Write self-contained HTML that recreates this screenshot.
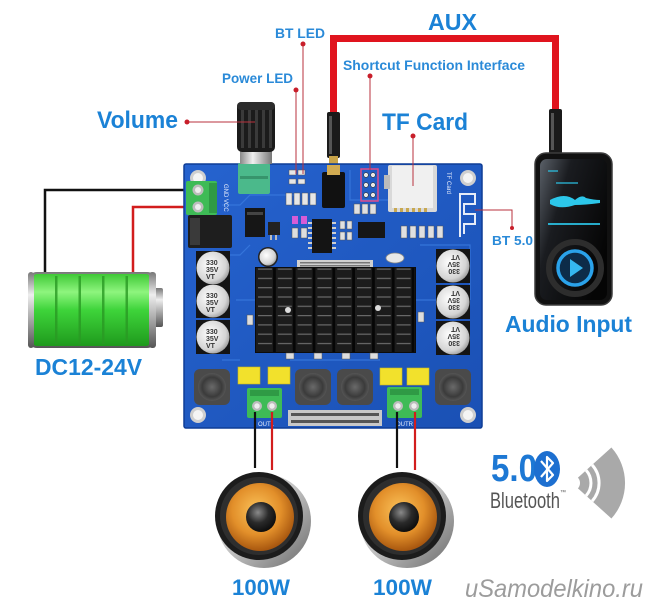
<!DOCTYPE html>
<html><head><meta charset="utf-8"><style>
html,body{margin:0;padding:0;background:#fff;}
svg{display:block;}
text{font-family:"Liberation Sans",Arial,sans-serif;}
</style></head><body>
<svg width="650" height="613" viewBox="0 0 650 613" xmlns="http://www.w3.org/2000/svg">
<defs>
  <linearGradient id="batt" x1="0" y1="0" x2="0" y2="1">
    <stop offset="0" stop-color="#3fc936"/>
    <stop offset="0.25" stop-color="#8ef57e"/>
    <stop offset="0.5" stop-color="#3ed43a"/>
    <stop offset="1" stop-color="#1f9a1d"/>
  </linearGradient>
  <linearGradient id="battcap" x1="0" y1="0" x2="0" y2="1">
    <stop offset="0" stop-color="#777"/>
    <stop offset="0.3" stop-color="#eee"/>
    <stop offset="1" stop-color="#555"/>
  </linearGradient>
  <radialGradient id="cone" cx="0.45" cy="0.4" r="0.6">
    <stop offset="0" stop-color="#fbc35a"/>
    <stop offset="0.6" stop-color="#e28f2a"/>
    <stop offset="1" stop-color="#a8570f"/>
  </radialGradient>
  <radialGradient id="cap" cx="0.4" cy="0.35" r="0.7">
    <stop offset="0" stop-color="#8a8a8a"/>
    <stop offset="0.5" stop-color="#2a2a2a"/>
    <stop offset="1" stop-color="#0a0a0a"/>
  </radialGradient>
  <linearGradient id="rim" x1="0" y1="0" x2="1" y2="1">
    <stop offset="0" stop-color="#f2f2f2"/>
    <stop offset="0.5" stop-color="#c0c0c0"/>
    <stop offset="1" stop-color="#6a6a6a"/>
  </linearGradient>
  <radialGradient id="elcap" cx="0.4" cy="0.4" r="0.7">
    <stop offset="0" stop-color="#ffffff"/>
    <stop offset="0.7" stop-color="#d4d4d4"/>
    <stop offset="1" stop-color="#8a8a8a"/>
  </radialGradient>
  <radialGradient id="ind" cx="0.5" cy="0.5" r="0.5">
    <stop offset="0" stop-color="#6a6a6a"/>
    <stop offset="0.7" stop-color="#3b3b3b"/>
    <stop offset="1" stop-color="#555"/>
  </radialGradient>
  <linearGradient id="phone" x1="0" y1="0" x2="1" y2="0.6">
    <stop offset="0" stop-color="#5a6068"/>
    <stop offset="0.35" stop-color="#1a1c20"/>
    <stop offset="1" stop-color="#050505"/>
  </linearGradient>
  <linearGradient id="silver" x1="0" y1="0" x2="1" y2="0">
    <stop offset="0" stop-color="#888"/>
    <stop offset="0.4" stop-color="#f0f0f0"/>
    <stop offset="1" stop-color="#777"/>
  </linearGradient>
  <linearGradient id="board" x1="0" y1="0" x2="1" y2="1">
    <stop offset="0" stop-color="#2663cf"/>
    <stop offset="1" stop-color="#1a50b4"/>
  </linearGradient>
  <pattern id="fins" x="256" y="268" width="19.8" height="9.3" patternUnits="userSpaceOnUse">
    <rect width="19.8" height="9.3" fill="#1c1c1c"/>
    <rect x="2" y="0.5" width="14" height="1.2" fill="#6a6a6a"/>
    <rect x="17" y="0" width="2.8" height="9.3" fill="#060606"/>
  </pattern>
</defs>

<rect width="650" height="613" fill="#fff"/>

<!-- ===== Labels ===== -->
<text x="97" y="128" font-size="24" font-weight="bold" fill="#1b82d6" textLength="81" lengthAdjust="spacingAndGlyphs">Volume</text>
<text x="222" y="83" font-size="14" font-weight="bold" fill="#2a8ad8" textLength="71" lengthAdjust="spacingAndGlyphs">Power LED</text>
<text x="275" y="38" font-size="14" font-weight="bold" fill="#2a8ad8" textLength="50" lengthAdjust="spacingAndGlyphs">BT LED</text>
<text x="428" y="30" font-size="23" font-weight="bold" fill="#1b82d6" textLength="49" lengthAdjust="spacingAndGlyphs">AUX</text>
<text x="343" y="70" font-size="14" font-weight="bold" fill="#2a8ad8" textLength="182" lengthAdjust="spacingAndGlyphs">Shortcut Function Interface</text>
<text x="382" y="130" font-size="24" font-weight="bold" fill="#1b82d6" textLength="86" lengthAdjust="spacingAndGlyphs">TF Card</text>
<text x="492" y="245" font-size="13" font-weight="bold" fill="#2a8ad8" textLength="41" lengthAdjust="spacingAndGlyphs">BT 5.0</text>
<text x="505" y="332" font-size="23" font-weight="bold" fill="#1b82d6" textLength="127" lengthAdjust="spacingAndGlyphs">Audio Input</text>
<text x="35" y="375" font-size="23" font-weight="bold" fill="#1b82d6" textLength="107" lengthAdjust="spacingAndGlyphs">DC12-24V</text>
<text x="232" y="595" font-size="22" font-weight="bold" fill="#1b82d6" textLength="58" lengthAdjust="spacingAndGlyphs">100W</text>
<text x="373" y="595" font-size="22" font-weight="bold" fill="#1b82d6" textLength="59" lengthAdjust="spacingAndGlyphs">100W</text>

<!-- ===== AUX cable ===== -->
<path d="M333.5,114 L333.5,38.5 L555.5,38.5 L555.5,111" fill="none" stroke="#e0141e" stroke-width="7"/>
<rect x="327" y="112" width="13" height="46" rx="2" fill="#1a1a1a"/>
<rect x="329" y="116" width="3" height="38" fill="#555"/>
<rect x="329" y="156" width="9" height="16" fill="#c9a449"/>
<rect x="549" y="109" width="13" height="45" rx="2" fill="#1a1a1a"/>
<rect x="551" y="113" width="3" height="37" fill="#555"/>

<!-- ===== Battery wires ===== -->
<path d="M45,273 L45,190 L198,190" fill="none" stroke="#111" stroke-width="2.5"/>
<path d="M133,273 L133,207 L198,207" fill="none" stroke="#d21d1d" stroke-width="2.5"/>

<!-- ===== Battery ===== -->
<rect x="153" y="288" width="10" height="39" rx="2" fill="url(#battcap)"/>
<rect x="28" y="272" width="128" height="76" rx="9" fill="url(#battcap)"/>
<rect x="33" y="274" width="117" height="72" rx="4" fill="url(#batt)"/>
<g fill="#2a9a24" opacity="0.8">
  <rect x="55" y="276" width="2.5" height="68"/>
  <rect x="78.5" y="276" width="2.5" height="68"/>
  <rect x="102" y="276" width="2.5" height="68"/>
  <rect x="125.5" y="276" width="2.5" height="68"/>
</g>
<rect x="28" y="272" width="6" height="76" rx="3" fill="url(#battcap)"/>
<rect x="149" y="272" width="7" height="76" rx="3" fill="url(#battcap)"/>

<!-- ===== Board ===== -->
<rect x="184" y="164" width="298" height="264" rx="2" fill="url(#board)" stroke="#0f3d96" stroke-width="1.5"/>
<g stroke="#3a7be0" stroke-width="1.2" fill="none" opacity="0.8">
  <path d="M222,205 L240,205 L250,195 L300,195"/>
  <path d="M200,255 L240,255 L250,245"/>
  <path d="M420,245 L470,245 L470,300"/>
  <path d="M350,170 L350,200 L395,200"/>
  <path d="M236,300 L256,300"/>
  <path d="M415,300 L436,300"/>
  <path d="M290,360 L380,360"/>
  <path d="M222,360 L240,360"/>
</g>
<g>
  <circle cx="198" cy="178" r="8" fill="#cfcfcf"/><circle cx="198" cy="178" r="5" fill="#f4f4f4"/>
  <circle cx="468" cy="178" r="8" fill="#cfcfcf"/><circle cx="468" cy="178" r="5" fill="#f4f4f4"/>
  <circle cx="198" cy="415" r="8" fill="#cfcfcf"/><circle cx="198" cy="415" r="5" fill="#f4f4f4"/>
  <circle cx="468" cy="415" r="8" fill="#cfcfcf"/><circle cx="468" cy="415" r="5" fill="#f4f4f4"/>
</g>

<rect x="186" y="181" width="31" height="34" rx="2" fill="#3ebb56"/>
<rect x="209" y="183" width="8" height="30" fill="#2f9a45"/>
<circle cx="198" cy="190" r="5.5" fill="#bcbcbc"/><circle cx="198" cy="190" r="3" fill="#eee"/>
<circle cx="198" cy="207" r="5.5" fill="#bcbcbc"/><circle cx="198" cy="207" r="3" fill="#eee"/>
<text x="224" y="184" font-size="6" fill="#e8eefc" transform="rotate(90 224 184)">GND VCC</text>
<rect x="188" y="215" width="44" height="33" rx="2" fill="#1e1e1e"/>
<rect x="190" y="218" width="10" height="27" fill="#3a3a3a"/>

<rect x="238" y="163" width="32" height="31" rx="2" fill="#4bb98b"/>
<rect x="240" y="176" width="28" height="3" fill="#37946c"/>

<g fill="#e6e6e6" stroke="#555" stroke-width="0.5">
  <rect x="289" y="170" width="7" height="5"/><rect x="298" y="170" width="7" height="5"/>
  <rect x="289" y="179" width="7" height="5"/><rect x="298" y="179" width="7" height="5"/>
  <rect x="286" y="193" width="6" height="12"/><rect x="294" y="193" width="6" height="12"/><rect x="302" y="193" width="6" height="12"/><rect x="310" y="193" width="6" height="12"/>
</g>
<g fill="#d65cd6">
  <rect x="292" y="216" width="6" height="8"/><rect x="301" y="216" width="6" height="8"/>
</g>
<g fill="#ddd" stroke="#555" stroke-width="0.5">
  <rect x="292" y="228" width="6" height="10"/><rect x="301" y="228" width="6" height="10"/>
</g>
<rect x="245" y="208" width="20" height="29" fill="#161616"/>
<rect x="247" y="212" width="16" height="3" fill="#444"/>
<rect x="268" y="222" width="12" height="13" fill="#222"/>
<rect x="270" y="235" width="2" height="5" fill="#bbb"/><rect x="275" y="235" width="2" height="5" fill="#bbb"/>
<rect x="312" y="219" width="20" height="34" fill="#141414"/>
<g fill="#cfcfcf">
  <rect x="308" y="222" width="4" height="2"/><rect x="308" y="227" width="4" height="2"/><rect x="308" y="232" width="4" height="2"/><rect x="308" y="237" width="4" height="2"/><rect x="308" y="242" width="4" height="2"/><rect x="308" y="247" width="4" height="2"/>
  <rect x="332" y="222" width="4" height="2"/><rect x="332" y="227" width="4" height="2"/><rect x="332" y="232" width="4" height="2"/><rect x="332" y="237" width="4" height="2"/><rect x="332" y="242" width="4" height="2"/><rect x="332" y="247" width="4" height="2"/>
</g>
<rect x="322" y="172" width="23" height="36" rx="2" fill="#111"/>
<rect x="327" y="165" width="13" height="10" fill="#d1ab52"/>
<rect x="361" y="169" width="17" height="32" fill="none" stroke="#e04b8a" stroke-width="1.5"/>
<g fill="#e8e8e8" stroke="#333" stroke-width="0.6">
  <circle cx="366" cy="175" r="2.4"/><circle cx="373" cy="175" r="2.4"/>
  <circle cx="366" cy="185" r="2.4"/><circle cx="373" cy="185" r="2.4"/>
  <circle cx="366" cy="195" r="2.4"/><circle cx="373" cy="195" r="2.4"/>
</g>
<g fill="#e0e0e0" stroke="#555" stroke-width="0.5">
  <rect x="354" y="204" width="6" height="10"/><rect x="362" y="204" width="6" height="10"/><rect x="370" y="204" width="6" height="10"/>
  <rect x="340" y="221" width="5" height="8"/><rect x="347" y="221" width="5" height="8"/><rect x="340" y="232" width="5" height="8"/><rect x="347" y="232" width="5" height="8"/>
  <rect x="401" y="226" width="6" height="12"/><rect x="410" y="226" width="6" height="12"/><rect x="419" y="226" width="6" height="12"/><rect x="428" y="226" width="6" height="12"/><rect x="437" y="226" width="6" height="12"/>
</g>
<rect x="358" y="222" width="27" height="16" fill="#161616"/>
<rect x="388" y="165" width="49" height="47" rx="2" fill="#d9d9d9"/>
<rect x="392" y="166" width="41" height="42" fill="#f0f0f0"/>
<rect x="384" y="175" width="6" height="14" fill="#bbb"/>
<g fill="#c8a850"><rect x="394" y="208" width="3" height="4"/><rect x="400" y="208" width="3" height="4"/><rect x="406" y="208" width="3" height="4"/><rect x="412" y="208" width="3" height="4"/><rect x="418" y="208" width="3" height="4"/><rect x="424" y="208" width="3" height="4"/></g>
<text x="447" y="172" font-size="6" fill="#e8eefc" transform="rotate(90 447 172)">TF Card</text>
<path d="M460,237 L460,194 L475,194 L475,204 L464,204 L464,214 L475,214 L475,224 L464,224 L464,234" fill="none" stroke="#e6ecf8" stroke-width="2"/>
<ellipse cx="395" cy="258" rx="9" ry="5" fill="#e8e8e8" stroke="#888" stroke-width="0.8"/>
<circle cx="268" cy="257" r="10" fill="#222"/>
<circle cx="268" cy="257" r="8.5" fill="url(#elcap)"/>
<rect x="297" y="260" width="76" height="8" fill="#d0d0d0"/>
<g fill="#777"><rect x="300" y="262" width="70" height="1.5"/><rect x="300" y="265" width="70" height="1.5"/></g>

<g>
  <rect x="196" y="251" width="34" height="34" fill="#141414"/>
  <circle cx="213" cy="268" r="16.5" fill="url(#elcap)"/>
  <rect x="196" y="284" width="34" height="34" fill="#141414"/>
  <circle cx="213" cy="301" r="16.5" fill="url(#elcap)"/>
  <rect x="196" y="320" width="34" height="34" fill="#141414"/>
  <circle cx="213" cy="337" r="16.5" fill="url(#elcap)"/>
  <rect x="436" y="249" width="34" height="34" fill="#141414"/>
  <circle cx="453" cy="266" r="16.5" fill="url(#elcap)"/>
  <rect x="436" y="285" width="34" height="34" fill="#141414"/>
  <circle cx="453" cy="302" r="16.5" fill="url(#elcap)"/>
  <rect x="436" y="321" width="34" height="34" fill="#141414"/>
  <circle cx="453" cy="338" r="16.5" fill="url(#elcap)"/>
</g>
<g font-size="7" fill="#333" font-weight="bold">
  <text x="206" y="265">330</text><text x="206" y="272">35V</text><text x="206" y="279">VT</text>
  <text x="206" y="298">330</text><text x="206" y="305">35V</text><text x="206" y="312">VT</text>
  <text x="206" y="334">330</text><text x="206" y="341">35V</text><text x="206" y="348">VT</text>
  <g transform="rotate(180 453 266)"><text x="446" y="263">330</text><text x="446" y="270">35V</text><text x="446" y="277">VT</text></g>
  <g transform="rotate(180 453 302)"><text x="446" y="299">330</text><text x="446" y="306">35V</text><text x="446" y="313">VT</text></g>
  <g transform="rotate(180 453 338)"><text x="446" y="335">330</text><text x="446" y="342">35V</text><text x="446" y="349">VT</text></g>
</g>

<rect x="255" y="267" width="161" height="86" fill="#0c0c0c"/>
<rect x="256" y="268" width="159" height="84" fill="url(#fins)"/>
<circle cx="288" cy="310" r="3" fill="#ddd"/>
<circle cx="378" cy="308" r="3" fill="#ddd"/>
<g fill="#ddd" stroke="#555" stroke-width="0.5">
  <rect x="286" y="353" width="8" height="6"/><rect x="314" y="353" width="8" height="6"/><rect x="342" y="353" width="8" height="6"/><rect x="370" y="353" width="8" height="6"/>
  <rect x="247" y="315" width="6" height="10"/><rect x="418" y="312" width="6" height="10"/>
</g>

<g>
  <rect x="194" y="369" width="36" height="36" rx="6" fill="#4a4a4a"/><circle cx="212" cy="387" r="14" fill="url(#ind)"/>
  <rect x="295" y="369" width="36" height="36" rx="6" fill="#4a4a4a"/><circle cx="313" cy="387" r="14" fill="url(#ind)"/>
  <rect x="337" y="369" width="36" height="36" rx="6" fill="#4a4a4a"/><circle cx="355" cy="387" r="14" fill="url(#ind)"/>
  <rect x="435" y="369" width="36" height="36" rx="6" fill="#4a4a4a"/><circle cx="453" cy="387" r="14" fill="url(#ind)"/>
</g>
<g fill="#f2e12c" stroke="#c9b71a" stroke-width="0.6">
  <rect x="238" y="367" width="22" height="17"/>
  <rect x="268" y="367" width="22" height="17"/>
  <rect x="380" y="368" width="22" height="17"/>
  <rect x="407" y="368" width="22" height="17"/>
</g>
<rect x="247" y="388" width="35" height="30" rx="2" fill="#3ebb56"/>
<rect x="250" y="390" width="29" height="6" fill="#2f9a45"/>
<circle cx="257" cy="406" r="5" fill="#bcbcbc"/><circle cx="257" cy="406" r="2.7" fill="#eee"/>
<circle cx="272" cy="406" r="5" fill="#bcbcbc"/><circle cx="272" cy="406" r="2.7" fill="#eee"/>
<rect x="387" y="387" width="35" height="31" rx="2" fill="#3ebb56"/>
<rect x="390" y="389" width="29" height="6" fill="#2f9a45"/>
<circle cx="398" cy="406" r="5" fill="#bcbcbc"/><circle cx="398" cy="406" r="2.7" fill="#eee"/>
<circle cx="414" cy="406" r="5" fill="#bcbcbc"/><circle cx="414" cy="406" r="2.7" fill="#eee"/>
<text x="258" y="426" font-size="6" fill="#e8eefc">OUTL</text>
<text x="396" y="426" font-size="6" fill="#e8eefc">OUTR</text>
<rect x="288" y="410" width="94" height="16" fill="#c8c8c8"/>
<g fill="#555">
  <rect x="291" y="413" width="88" height="3"/>
  <rect x="291" y="420" width="88" height="3"/>
</g>

<line x1="255" y1="412" x2="255" y2="468" stroke="#111" stroke-width="2.2"/>
<line x1="272" y1="412" x2="272" y2="470" stroke="#d21d1d" stroke-width="2.2"/>
<line x1="397" y1="412" x2="397" y2="468" stroke="#111" stroke-width="2.2"/>
<line x1="415" y1="412" x2="415" y2="470" stroke="#d21d1d" stroke-width="2.2"/>

<!-- ===== Volume knob ===== -->
<rect x="240" y="149" width="32" height="15" fill="url(#silver)"/>
<rect x="237" y="102" width="38" height="50" rx="5" fill="#1b1b1b"/>
<g fill="#3a3a3a">
  <rect x="241" y="106" width="3" height="42"/><rect x="248" y="106" width="3" height="42"/>
  <rect x="255" y="106" width="3" height="42"/><rect x="262" y="106" width="3" height="42"/><rect x="269" y="106" width="3" height="42"/>
</g>
<rect x="237" y="102" width="38" height="8" rx="4" fill="#2c2c2c"/>

<!-- ===== callout lines ===== -->
<g stroke="#b8323e" stroke-width="1" fill="none">
  <line x1="187" y1="122" x2="255" y2="122"/>
  <line x1="296" y1="90" x2="296" y2="174"/>
  <line x1="303" y1="44" x2="303" y2="174"/>
  <line x1="370" y1="76" x2="370" y2="170"/>
  <line x1="413" y1="136" x2="413" y2="186"/>
  <path d="M475,210 L512,210 L512,228"/>
</g>
<g fill="#c81e2a">
  <circle cx="187" cy="122" r="2.5"/>
  <circle cx="296" cy="90" r="2.5"/>
  <circle cx="303" cy="44" r="2.5"/>
  <circle cx="370" cy="76" r="2.5"/>
  <circle cx="413" cy="136" r="2.5"/>
  <circle cx="512" cy="228" r="2"/>
</g>

<!-- ===== Phone ===== -->
<rect x="535" y="153" width="77" height="152" rx="11" fill="#111" stroke="#3c3c3c" stroke-width="1.5"/>
<rect x="540" y="159" width="67" height="141" rx="7" fill="url(#phone)"/>
<g fill="#2cc7ea">
  <rect x="548" y="170" width="10" height="2" opacity="0.6"/>
  <rect x="556" y="182" width="22" height="2" opacity="0.6"/>
  <path d="M550,200 Q565,192 575,200 Q582,194 586,198 Q594,200 600,200 L600,203 Q585,205 575,205 Q560,210 550,204 Z"/>
  <rect x="548" y="223" width="52" height="2" opacity="0.85"/>
</g>
<circle cx="575" cy="268" r="26" fill="none" stroke="#2d2d2d" stroke-width="6"/>
<circle cx="575" cy="268" r="17" fill="#0d2c49" stroke="#2aa2ea" stroke-width="3.5"/>
<path d="M570,259 L583,268 L570,277 Z" fill="#35b7f0"/>

<!-- ===== Speakers ===== -->
<g>
  <circle cx="264" cy="521" r="47" fill="url(#rim)"/>
  <circle cx="259" cy="516" r="44" fill="#1c1c1c"/>
  <circle cx="259" cy="516" r="39" fill="#2e2e2e"/>
  <circle cx="260" cy="517" r="34" fill="url(#cone)"/>
  <circle cx="261" cy="517" r="15" fill="url(#cap)"/>
</g>
<g>
  <circle cx="407" cy="521" r="47" fill="url(#rim)"/>
  <circle cx="402" cy="516" r="44" fill="#1c1c1c"/>
  <circle cx="402" cy="516" r="39" fill="#2e2e2e"/>
  <circle cx="403" cy="517" r="34" fill="url(#cone)"/>
  <circle cx="404" cy="517" r="15" fill="url(#cap)"/>
</g>

<!-- ===== Bluetooth 5.0 ===== -->
<text x="491" y="481" font-size="38" font-weight="bold" fill="#1d78d4" textLength="46" lengthAdjust="spacingAndGlyphs">5.0</text>
<ellipse cx="547" cy="469" rx="13" ry="18" fill="#1d6fd0"/>
<path d="M541,461 L553,475 L547,481 L547,457 L553,463 L541,477" fill="none" stroke="#fff" stroke-width="2.2" stroke-linejoin="round"/>
<text x="490" y="508" font-size="22" fill="#555" textLength="70" lengthAdjust="spacingAndGlyphs">Bluetooth</text>
<text x="560" y="494" font-size="6" fill="#555">™</text>
<!-- signal wedge -->
<path d="M572,483 L611.4,447.5 A53,53 0 0 1 611.4,518.5 Z" fill="#a9a9a9"/>
<g fill="none" stroke="#fff" stroke-width="3">
  <path d="M586.1,470.3 A19,19 0 0 1 586.1,495.7"/>
  <path d="M592.1,464.9 A27,27 0 0 1 592.1,501.1"/>
</g>
<circle cx="572" cy="483" r="8" fill="#fff"/>

<!-- watermark -->
<text x="465" y="597" font-size="25" fill="#9c9c9c" font-style="italic" textLength="178" lengthAdjust="spacingAndGlyphs">uSamodelkino.ru</text>
</svg>
</body></html>
